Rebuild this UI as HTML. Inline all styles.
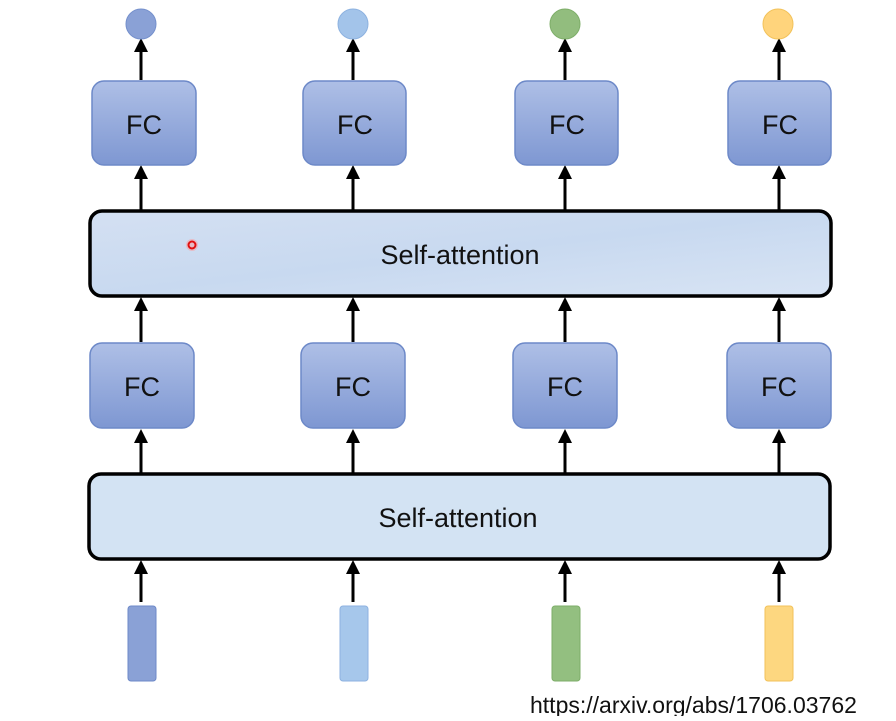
<!DOCTYPE html>
<html><head><meta charset="utf-8"><style>
body{margin:0;background:#fff;width:896px;height:716px;overflow:hidden;font-family:"Liberation Sans","DejaVu Sans",sans-serif}
</style></head><body>
<svg width="896" height="716" viewBox="0 0 896 716" xmlns="http://www.w3.org/2000/svg">
<defs>
<linearGradient id="fc" x1="0" y1="0" x2="0" y2="1"><stop offset="0" stop-color="#aebfe6"/><stop offset="1" stop-color="#7e97d2"/></linearGradient>
<linearGradient id="sa" x1="0" y1="0" x2="1" y2="1"><stop offset="0" stop-color="#d4e0f2"/><stop offset="0.5" stop-color="#c8d9f0"/><stop offset="1" stop-color="#d8e4f4"/></linearGradient>
<marker id="ah" markerWidth="10" markerHeight="10" refX="5" refY="5" orient="auto" markerUnits="userSpaceOnUse"><path d="M0,10 L5,0 L10,10 Z" fill="#000"/></marker>
</defs>
<g fill="none" stroke="#000" stroke-width="3">
<!-- circles to FC top -->
<g>
<line x1="141" y1="80" x2="141" y2="44"/><line x1="353" y1="80" x2="353" y2="44"/><line x1="565" y1="80" x2="565" y2="44"/><line x1="779" y1="80" x2="779" y2="44"/>
<line x1="141" y1="210" x2="141" y2="170"/><line x1="353" y1="210" x2="353" y2="170"/><line x1="565" y1="210" x2="565" y2="170"/><line x1="779" y1="210" x2="779" y2="170"/>
<line x1="141" y1="342" x2="141" y2="302"/><line x1="353" y1="342" x2="353" y2="302"/><line x1="565" y1="342" x2="565" y2="302"/><line x1="779" y1="342" x2="779" y2="302"/>
<line x1="141" y1="473" x2="141" y2="434"/><line x1="353" y1="473" x2="353" y2="434"/><line x1="565" y1="473" x2="565" y2="434"/><line x1="779" y1="473" x2="779" y2="434"/>
<line x1="141" y1="602" x2="141" y2="565"/><line x1="353" y1="602" x2="353" y2="565"/><line x1="565" y1="602" x2="565" y2="565"/><line x1="779" y1="602" x2="779" y2="565"/>
</g>
</g>
<g fill="#000">
<path d="M134,52 L141,38 L148,52Z"/><path d="M346,52 L353,38 L360,52Z"/><path d="M558,52 L565,38 L572,52Z"/><path d="M772,52 L779,38 L786,52Z"/>
<path d="M134,179 L141,165 L148,179Z"/><path d="M346,179 L353,165 L360,179Z"/><path d="M558,179 L565,165 L572,179Z"/><path d="M772,179 L779,165 L786,179Z"/>
<path d="M134,311 L141,297 L148,311Z"/><path d="M346,311 L353,297 L360,311Z"/><path d="M558,311 L565,297 L572,311Z"/><path d="M772,311 L779,297 L786,311Z"/>
<path d="M134,443 L141,429 L148,443Z"/><path d="M346,443 L353,429 L360,443Z"/><path d="M558,443 L565,429 L572,443Z"/><path d="M772,443 L779,429 L786,443Z"/>
<path d="M134,574 L141,560 L148,574Z"/><path d="M346,574 L353,560 L360,574Z"/><path d="M558,574 L565,560 L572,574Z"/><path d="M772,574 L779,560 L786,574Z"/>
</g>
<!-- top circles -->
<circle cx="141" cy="24" r="15" fill="#8aa1d6" stroke="#7590cc" stroke-width="1"/>
<circle cx="353" cy="24" r="15" fill="#a3c4ea" stroke="#8db2e0" stroke-width="1"/>
<circle cx="565" cy="24" r="15" fill="#92bd7e" stroke="#7eae69" stroke-width="1"/>
<circle cx="778" cy="24" r="15" fill="#ffd47c" stroke="#f2c25a" stroke-width="1"/>
<!-- FC boxes -->
<g fill="url(#fc)" stroke="#6d89c8" stroke-width="1.5">
<rect x="92" y="81" width="104" height="84" rx="12"/><rect x="303" y="81" width="103" height="84" rx="12"/><rect x="515" y="81" width="103" height="84" rx="12"/><rect x="728" y="81" width="103" height="84" rx="12"/>
<rect x="90" y="343" width="104" height="85" rx="12"/><rect x="301" y="343" width="104" height="85" rx="12"/><rect x="513" y="343" width="104" height="85" rx="12"/><rect x="727" y="343" width="104" height="85" rx="12"/>
</g>
<g font-size="27" text-anchor="middle" fill="#111">
<text x="144" y="134">FC</text><text x="355" y="134">FC</text><text x="567" y="134">FC</text><text x="780" y="134">FC</text>
<text x="142" y="396">FC</text><text x="353" y="396">FC</text><text x="565" y="396">FC</text><text x="779" y="396">FC</text>
</g>
<!-- self-attention -->
<rect x="90" y="211" width="741" height="85" rx="12" fill="url(#sa)" stroke="#000" stroke-width="3.5"/>
<rect x="89" y="474" width="741" height="85" rx="12" fill="#d3e3f3" stroke="#000" stroke-width="3.5"/>
<g font-size="27" text-anchor="middle" fill="#111">
<text x="460" y="264">Self-attention</text><text x="458" y="527">Self-attention</text>
</g>
<circle cx="192" cy="245" r="6" fill="#ff9a9a" opacity="0.5"/><circle cx="192" cy="245" r="3.5" fill="none" stroke="#e01010" stroke-width="2"/>
<!-- inputs -->
<rect x="128" y="606" width="28" height="75" rx="3" fill="#8aa1d6" stroke="#6d89c8"/>
<rect x="340" y="606" width="28" height="75" rx="3" fill="#a6c7eb" stroke="#8db2e0"/>
<rect x="552" y="606" width="28" height="75" rx="3" fill="#93bf80" stroke="#7eae69"/>
<rect x="765" y="606" width="28" height="75" rx="3" fill="#fdd780" stroke="#f2c25a"/>
<text x="530" y="713" font-size="23" fill="#111">https://arxiv.org/abs/1706.03762</text>
</svg>
</body></html>
